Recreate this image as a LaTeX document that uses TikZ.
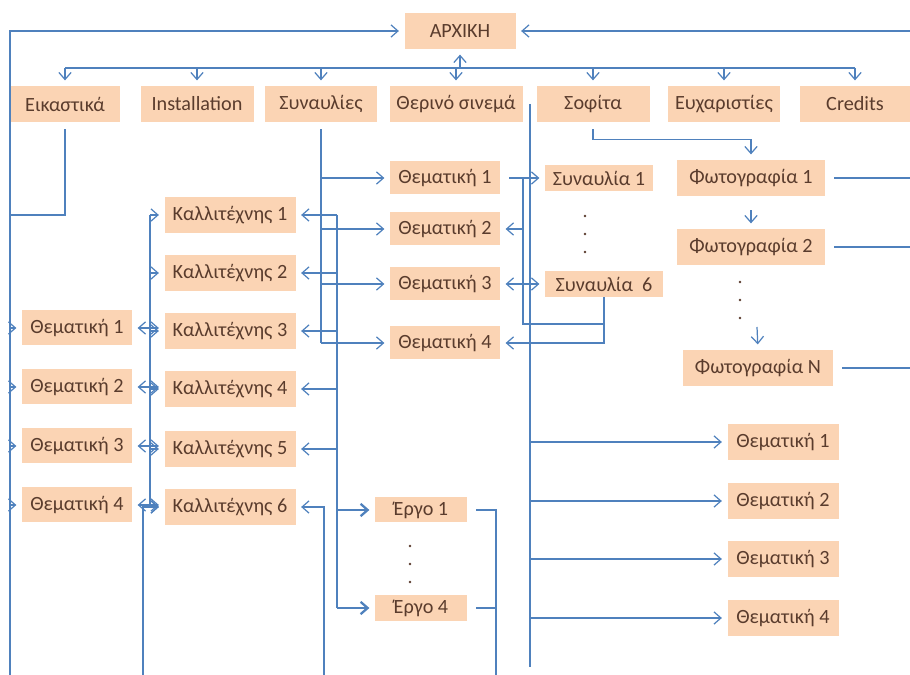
\documentclass[tikz,border=0pt]{standalone}
\usepackage{fontspec}
\setmainfont{Carlito}
\usetikzlibrary{arrows.meta}

\definecolor{peach}{RGB}{251,212,180}
\definecolor{ink}{RGB}{90,60,45}
\definecolor{wire}{RGB}{79,129,189}

\begin{document}
\begin{tikzpicture}[x=0.02cm, y=-0.02cm,
  >={Straight Barb[length=4pt,width=7pt]},
  box/.style={fill=peach, text=ink, font=\fontsize{11.5}{13}\selectfont,
    inner sep=0pt, minimum width=#1*0.02cm, minimum height=0.72cm},
  low/.style={minimum height=#1*0.02cm},
  link/.style={draw=wire, line width=0.7pt},
  bold/.style={draw=wire, line width=1.3pt},
  go/.style={link, ->, shorten >=3pt},
  both/.style={link, <->, shorten >=3pt, shorten <=3pt}]
\useasboundingbox (0,0) rectangle (910,675);

% Home and first level
\node[box=111] (home) at (460,31) {ΑΡΧΙΚΗ};
\node[box=110] (vis) at (65,104) {Εικαστικά};
\node[box=113] (inst) at (197,104) {Installation};
\node[box=112] (conc) at (321,104) {Συναυλίες};
\node[box=133] (cine) at (456,104) {Θερινό σινεμά};
\node[box=113] (attic) at (593,104) {Σοφίτα};
\node[box=112] (thanks) at (724,104) {Ευχαριστίες};
\node[box=110] (cred) at (855,104) {Credits};

% Themes of the visual arts
\foreach \i/\y in {1/328,2/387,3/446,4/505}
  \node[box=110, low=35] (vt\i) at (77,\y) {Θεματική \i};

% Artists
\foreach \i/\y in {1/215,2/273,3/331,4/389,5/449,6/507}
  \node[box=131] (art\i) at (230,\y) {Καλλιτέχνης \i};

% Themes of the concerts
\foreach \i/\y in {1/178,2/229,3/284,4/343}
  \node[box=110, low=33] (st\i) at (445,\y) {Θεματική \i};

% Concerts
\node[box=108, low=26] (gig1) at (599,178) {Συναυλία 1};
\node[box=118, low=26] (gig6) at (604,284) {Συναυλία\ \ 6};

% Works
\node[box=92, low=25] (work1) at (421,510) {Έργο 1};
\node[box=92, low=25] (work4) at (421,608) {Έργο 4};

% Photos
\node[box=148] (ph1) at (751,178) {Φωτογραφία 1};
\node[box=148] (ph2) at (751,247) {Φωτογραφία 2};
\node[box=150] (phN) at (758,368) {Φωτογραφία N};

% Themes of the summer cinema
\foreach \i/\y in {1/442,2/501,3/559,4/618}
  \node[box=111] (mt\i) at (783,\y) {Θεματική \i};

% Dots
\foreach \y in {216,234,252} \fill[ink] (585,\y) circle[radius=0.8pt];
\foreach \y in {546,564,582} \fill[ink] (410,\y) circle[radius=0.8pt];
\foreach \y in {282,300,318} \fill[ink] (740,\y) circle[radius=0.8pt];

% Coordinates of the buses
\coordinate (bus) at (460,68);
\coordinate (lbot) at (10,675);
\coordinate (vjoin) at (10,215);
\coordinate (rtop) at (910,31);
\coordinate (ibus) at (150,215);
\coordinate (ibot) at (143,675);
\coordinate (kbus) at (337,215);
\coordinate (kend) at (337,608);
\coordinate (kbot) at (324,675);
\coordinate (wbot) at (496,675);
\coordinate (ctop) at (530,104);
\coordinate (cbot) at (530,667);
\coordinate (gtop) at (523,178);
\coordinate (gbend) at (523,324);
\coordinate (ndots) at (757,327);

% Home links
\draw[go] (bus) -- (home.south);
\draw[link] (vis |- bus) -- (cred |- bus);
\foreach \n in {vis,inst,conc,cine,attic,thanks,cred}
  \draw[go] (\n |- bus) -- (\n.north);
\draw[go] (lbot) |- (home.west);
\draw[go] (rtop) -- (home.east);

% Visual arts
\draw[bold, shorten <=4pt] (vis.south) |- (vjoin) -- (lbot);
\foreach \i in {1,...,4}
  \draw[go] (vjoin |- vt\i) -- (vt\i.west);
\draw[link] (ibus) -- (ibus |- art6);
\foreach \i in {1,...,6}
  \draw[go] (ibus |- art\i) -- (art\i.west);
\foreach \i/\j in {1/3,2/4,3/5,4/6}
  \draw[both] (vt\i.east) -- (vt\i.east -| art\j.west);
\draw[go] (ibot) |- (art6.west);

% Concerts
\draw[link, shorten <=4pt] (conc.south) -- (conc.south |- st4);
\foreach \i in {1,...,4}
  \draw[go] (conc.south |- st\i) -- (st\i.west);
\draw[link] (kbus) -- (kend);
\foreach \i in {1,...,5}
  \draw[go] (kbus |- art\i) -- (art\i.east);
\draw[go, line width=1.3pt] (kbus |- work1) -- (work1.west);
\draw[go, line width=1.3pt] (kend) -- (work4.west);
\draw[go] (kbot) |- (art6.east);
\draw[link, shorten >=5pt] (wbot) |- (work1.east);
\draw[link, shorten <=5pt] (work4.east) -- (work4 -| wbot);

\draw[go, shorten <=5pt] (st1.east) -- (gig1.west);
\draw[link] (gtop) -- (gbend) -| (gig6.south);
\draw[go] (gtop |- st2) -- (st2.east);
\draw[both] (st3.east) -- (gig6.west);
\draw[go] (gig6.south) |- (st4.east);

% Summer cinema
\draw[bold] (ctop) -- (cbot);
\foreach \i in {1,...,4}
  \draw[go] (ctop |- mt\i) -- (mt\i.west);

% Attic
\draw[go, shorten <=4pt] (attic.south) -- ++(0,17) -| (ph1.north);
\draw[go, shorten <=8pt] (ph1.south) -- (ph2.north);
\draw[go] (ndots) -- (phN.north);
\draw[link, shorten <=5pt] (ph1.east) -- (ph1 -| rtop);
\draw[link, shorten <=5pt] (ph2.east) -- (ph2 -| rtop);
\draw[link, shorten <=5pt] (phN.east) -- (phN -| rtop);
\end{tikzpicture}
\end{document}
